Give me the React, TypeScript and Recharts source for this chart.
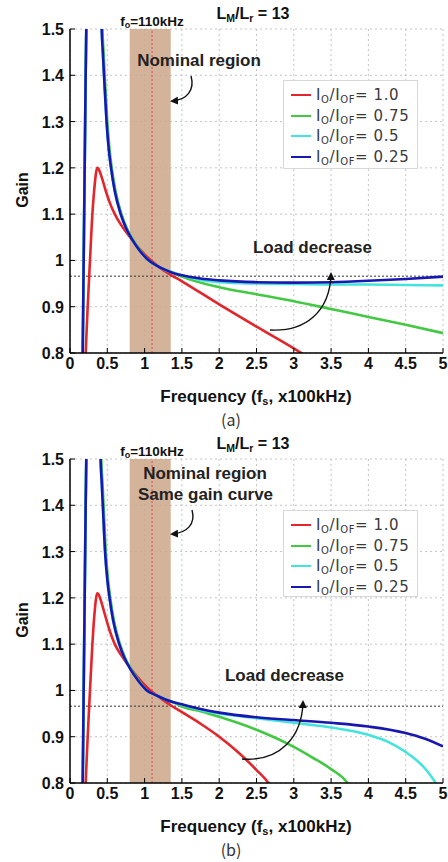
import React from 'react';
import { LineChart, Line, XAxis, YAxis, CartesianGrid, ReferenceArea, ReferenceLine } from 'recharts';

// ---------- axes / labels ----------
const xTicks = [0, 0.5, 1, 1.5, 2, 2.5, 3, 3.5, 4, 4.5, 5];
const yTicks = [0.8, 0.9, 1, 1.1, 1.2, 1.3, 1.4, 1.5];
const legendValues = ['1.0', '0.75', '0.5', '0.25'];
const nominalBand = [0.8, 1.35];
const resonantFreq = 1.1;
const refGain = 0.966;

// ---------- panel (a) ----------
const aRedF = [0.205, 0.21, 0.237, 0.268, 0.3, 0.318, 0.335, 0.35, 0.366, 0.385, 0.41, 0.44, 0.48, 0.53, 0.6, 0.7, 0.8, 0.9, 1.0, 1.1, 1.2, 1.35, 1.5, 2, 2.5, 3, 3.15];
const aRedG = [0.78, 0.8, 0.9, 1.0, 1.1, 1.14, 1.17, 1.19, 1.2, 1.197, 1.187, 1.172, 1.15, 1.126, 1.1, 1.073, 1.051, 1.031, 1.013, 0.998, 0.985, 0.969, 0.955, 0.905, 0.857, 0.81, 0.795];

const aGreenF = [0.165, 0.17, 0.18, 0.19, 0.2, 0.21, 0.22, 0.225, 0.3, 0.42, 0.435, 0.45, 0.465, 0.5, 0.53, 0.56, 0.61, 0.69, 0.76, 0.84, 0.94, 1.05, 1.15, 1.27, 1.4, 1.5, 2, 2.5, 3, 3.5, 4, 4.5, 5];
const aGreenG = [0.78, 0.8, 0.95, 1.1, 1.25, 1.4, 1.52, 1.6, null, 1.62, 1.5, 1.45, 1.4, 1.3, 1.24, 1.2, 1.15, 1.1, 1.07, 1.046, 1.022, 1.001, 0.99, 0.98, 0.972, 0.965, 0.942, 0.927, 0.912, 0.895, 0.878, 0.861, 0.843];

const aCyanF = [0.165, 0.17, 0.18, 0.19, 0.2, 0.21, 0.22, 0.225, 0.3, 0.41, 0.425, 0.44, 0.456, 0.49, 0.52, 0.55, 0.6, 0.68, 0.75, 0.83, 0.93, 1.05, 1.15, 1.27, 1.4, 1.5, 1.75, 2, 2.5, 3, 3.5, 4, 4.5, 5];
const aCyanG = [0.78, 0.8, 0.95, 1.1, 1.25, 1.4, 1.52, 1.6, null, 1.62, 1.5, 1.45, 1.4, 1.3, 1.24, 1.2, 1.15, 1.1, 1.07, 1.046, 1.022, 1.001, 0.99, 0.98, 0.973, 0.968, 0.958, 0.953, 0.95, 0.949, 0.948, 0.948, 0.947, 0.946];

const aBlueF = [0.165, 0.17, 0.18, 0.19, 0.2, 0.21, 0.22, 0.225, 0.3, 0.41, 0.425, 0.44, 0.456, 0.49, 0.52, 0.55, 0.6, 0.68, 0.75, 0.83, 0.93, 1.05, 1.15, 1.27, 1.4, 1.5, 1.75, 2, 2.5, 3, 3.5, 4, 4.5, 5];
const aBlueG = [0.78, 0.8, 0.95, 1.1, 1.25, 1.4, 1.52, 1.6, null, 1.62, 1.5, 1.45, 1.4, 1.3, 1.24, 1.2, 1.15, 1.1, 1.07, 1.046, 1.022, 1.001, 0.99, 0.98, 0.972, 0.968, 0.961, 0.957, 0.953, 0.952, 0.953, 0.956, 0.96, 0.965];

// ---------- panel (b) ----------
const bRedF = [0.205, 0.21, 0.237, 0.268, 0.3, 0.318, 0.335, 0.35, 0.366, 0.385, 0.41, 0.44, 0.48, 0.53, 0.6, 0.7, 0.8, 0.9, 1.0, 1.1, 1.2, 1.35, 1.5, 1.75, 2, 2.25, 2.5, 2.66, 2.7];
const bRedG = [0.78, 0.8, 0.9, 1.0, 1.1, 1.145, 1.178, 1.2, 1.21, 1.207, 1.196, 1.18, 1.157, 1.13, 1.1, 1.073, 1.05, 1.03, 1.012, 0.997, 0.985, 0.968, 0.953, 0.928, 0.9, 0.867, 0.828, 0.8, 0.79];

const bGreenF = [0.165, 0.17, 0.18, 0.19, 0.2, 0.21, 0.22, 0.225, 0.3, 0.405, 0.42, 0.435, 0.45, 0.48, 0.51, 0.54, 0.59, 0.67, 0.74, 0.82, 0.92, 1.03, 1.15, 1.27, 1.4, 1.5, 1.75, 2, 2.5, 3, 3.25, 3.5, 3.72, 3.76];
const bGreenG = [0.78, 0.8, 0.95, 1.1, 1.25, 1.4, 1.52, 1.6, null, 1.62, 1.5, 1.45, 1.4, 1.3, 1.24, 1.2, 1.15, 1.1, 1.07, 1.046, 1.022, 1.0, 0.99, 0.981, 0.973, 0.965, 0.955, 0.943, 0.915, 0.878, 0.855, 0.83, 0.8, 0.79];

const bCyanF = [0.165, 0.17, 0.18, 0.19, 0.2, 0.21, 0.22, 0.225, 0.3, 0.395, 0.41, 0.425, 0.44, 0.47, 0.5, 0.53, 0.58, 0.66, 0.73, 0.81, 0.91, 1.03, 1.15, 1.27, 1.4, 1.5, 1.75, 2, 2.5, 3, 3.5, 4, 4.25, 4.5, 4.75, 4.9, 4.95];
const bCyanG = [0.78, 0.8, 0.95, 1.1, 1.25, 1.4, 1.52, 1.6, null, 1.62, 1.5, 1.45, 1.4, 1.3, 1.24, 1.2, 1.15, 1.1, 1.07, 1.046, 1.022, 1.0, 0.99, 0.981, 0.974, 0.969, 0.958, 0.95, 0.94, 0.93, 0.92, 0.904, 0.89, 0.867, 0.833, 0.8, 0.785];

const bBlueF = [0.165, 0.17, 0.18, 0.19, 0.2, 0.21, 0.22, 0.225, 0.3, 0.395, 0.41, 0.425, 0.44, 0.47, 0.5, 0.53, 0.58, 0.66, 0.73, 0.81, 0.91, 1.03, 1.15, 1.27, 1.4, 1.5, 1.75, 2, 2.5, 3, 3.5, 4, 4.5, 4.75, 5];
const bBlueG = [0.78, 0.8, 0.95, 1.1, 1.25, 1.4, 1.52, 1.6, null, 1.62, 1.5, 1.45, 1.4, 1.3, 1.24, 1.2, 1.15, 1.1, 1.07, 1.046, 1.022, 1.0, 0.99, 0.981, 0.974, 0.97, 0.96, 0.952, 0.942, 0.936, 0.93, 0.922, 0.908, 0.896, 0.879];

// ---------- styles ----------
const COLORS = ['#e2262c', '#42c842', '#44e4dc', '#1818b0'];
const BOLD = "'Liberation Sans', Arial, sans-serif";
const KR = "'Noto Sans CJK KR', 'Noto Sans', sans-serif";
const LEG = "'DejaVu Sans', sans-serif";

const toPoints = (f: number[], g: (number | null)[]) => f.map((v, i) => ({ f: v, g: g[i] }));

const BottomTick = (props: any) => {
  const { x, y, payload } = props;
  return (
    <g>
      <line x1={x} x2={x} y1={y} y2={y - 5} stroke="#000" strokeWidth={1} />
      <text x={x} y={y + 16} textAnchor="middle" fontSize={16} fontWeight="bold" fontFamily={BOLD} fill="#111">
        {String(payload.value)}
      </text>
    </g>
  );
};
const TopTick = (props: any) => {
  const { x, y } = props;
  return <line x1={x} x2={x} y1={y} y2={y + 5} stroke="#000" strokeWidth={1} />;
};
const LeftTick = (props: any) => {
  const { x, y, payload } = props;
  return (
    <g>
      <line x1={x} x2={x + 5} y1={y} y2={y} stroke="#000" strokeWidth={1} />
      <text x={x - 6} y={y + 6} textAnchor="end" fontSize={16} fontWeight="bold" fontFamily={BOLD} fill="#111">
        {String(payload.value)}
      </text>
    </g>
  );
};
const RightTick = (props: any) => {
  const { x, y } = props;
  return <line x1={x} x2={x - 5} y1={y} y2={y} stroke="#000" strokeWidth={1} />;
};

type PanelProps = { top: number; series: { f: number[]; g: (number | null)[] }[] };

const Panel = ({ top, series }: PanelProps) => (
  <div style={{ position: 'absolute', left: 0, top, width: 448, height: 430 }}>
    <LineChart width={448} height={430} margin={{ top: 29, right: 5, bottom: 47, left: 0 }}>
      <CartesianGrid stroke="#c4c4c4" strokeDasharray="2 3" />
      <XAxis dataKey="f" type="number" domain={[0, 5]} ticks={xTicks} allowDataOverflow height={30}
        tickSize={0} tickMargin={0} tick={<BottomTick />} axisLine={{ stroke: '#000', strokeWidth: 1.5 }} />
      <XAxis xAxisId="top" orientation="top" dataKey="f" type="number" domain={[0, 5]} ticks={xTicks} allowDataOverflow height={0}
        tickSize={0} tickMargin={0} tick={<TopTick />} axisLine={{ stroke: '#000', strokeWidth: 1.5 }} />
      <YAxis type="number" domain={[0.8, 1.5]} ticks={yTicks} allowDataOverflow width={70}
        tickSize={0} tickMargin={0} tick={<LeftTick />} axisLine={{ stroke: '#000', strokeWidth: 1.5 }} />
      <YAxis yAxisId="right" orientation="right" type="number" domain={[0.8, 1.5]} ticks={yTicks} allowDataOverflow width={0}
        tickSize={0} tickMargin={0} tick={<RightTick />} axisLine={{ stroke: '#000', strokeWidth: 1.5 }} />
      <ReferenceArea x1={nominalBand[0]} x2={nominalBand[1]} y1={0.8} y2={1.5} fill="#cca68a" fillOpacity={0.85} stroke="none" ifOverflow="hidden" />
      <ReferenceLine x={resonantFreq} stroke="#e05a5a" strokeDasharray="2 2" strokeWidth={1.2} />
      <ReferenceLine y={refGain} stroke="#333" strokeDasharray="2 2" strokeWidth={1} />
      {series.map((s, i) => (
        <Line key={i} data={toPoints(s.f, s.g)} dataKey="g" type="monotone" stroke={COLORS[i]} strokeWidth={2.6}
          dot={false} activeDot={false} isAnimationActive={false} connectNulls={false} />
      ))}
    </LineChart>
  </div>
);

const subStyle: React.CSSProperties = { fontSize: 10, position: 'relative', top: 3 };

const LegendBox = ({ x, y, h }: { x: number; y: number; h: number }) => (
  <div style={{ position: 'absolute', left: x, top: y, width: 135, height: h, background: '#fff', border: '1px solid #d8d8d8', boxSizing: 'border-box' }}>
    {legendValues.map((v, i) => (
      <div key={i} style={{ position: 'absolute', left: 0, top: 4 + i * 20.5, height: 20, width: 135 }}>
        <div style={{ position: 'absolute', left: 7, top: 9, width: 20, height: 2, background: COLORS[i] }} />
        <div style={{ position: 'absolute', left: 32, top: 0, lineHeight: '20px', fontFamily: LEG, fontSize: 15, letterSpacing: 0.6, color: '#3a3a3a', whiteSpace: 'nowrap' }}>
          I<span style={subStyle}>O</span>/I<span style={subStyle}>OF</span>= {v}
        </div>
      </div>
    ))}
  </div>
);

const Arrow = ({ d }: { d: string }) => (
  <path d={d} fill="none" stroke="#111" strokeWidth={1.4} markerEnd="url(#ah)" />
);

const Common = ({ off, cap }: { off: number; cap: string }) => (
  <g>
    <text x={253} y={18.5 + off} textAnchor="middle" fontFamily={BOLD} fontWeight="bold" fontSize={16} fill="#111">
      L<tspan fontSize={10.5} dy={3}>M</tspan><tspan dy={-3}>/L</tspan><tspan fontSize={10.5} dy={3}>r</tspan><tspan dy={-3}> = 13</tspan>
    </text>
    <text x={152} y={25.5 + off} textAnchor="middle" fontFamily={BOLD} fontWeight="bold" fontSize={13.5} fill="#111">
      f<tspan fontSize={9} dy={2}>o</tspan><tspan dy={-2}>=110kHz</tspan>
    </text>
    <text x={256} y={401.5 + off} textAnchor="middle" fontFamily={BOLD} fontWeight="bold" fontSize={17} fill="#111">
      Frequency (f<tspan fontSize={11} dy={3}>s</tspan><tspan dy={-3}>, x100kHz)</tspan>
    </text>
    <text transform={`translate(28, ${190 + off}) rotate(-90)`} textAnchor="middle" fontFamily={BOLD} fontWeight="bold" fontSize={16} fill="#111">
      Gain
    </text>
    <text x={231} y={426 + off} textAnchor="middle" fontFamily={KR} fontSize={16} fill="#333">
      {cap}
    </text>
  </g>
);

export default function App() {
  const aSeries = [
    { f: aRedF, g: aRedG },
    { f: aGreenF, g: aGreenG },
    { f: aCyanF, g: aCyanG },
    { f: aBlueF, g: aBlueG },
  ];
  const bSeries = [
    { f: bRedF, g: bRedG },
    { f: bGreenF, g: bGreenG },
    { f: bCyanF, g: bCyanG },
    { f: bBlueF, g: bBlueG },
  ];
  return (
    <div style={{ position: 'absolute', left: 0, top: 0, width: 448, height: 862, background: '#fff', overflow: 'hidden' }}>
      <Panel top={0} series={aSeries} />
      <Panel top={430} series={bSeries} />
      <svg width={448} height={862} style={{ position: 'absolute', left: 0, top: 0, pointerEvents: 'none' }}>
        <defs>
          <marker id="ah" markerWidth="8" markerHeight="8" refX="6" refY="4" orient="auto" markerUnits="userSpaceOnUse">
            <path d="M0,0 L8,4 L0,8 Z" fill="#111" />
          </marker>
        </defs>
        <Common off={0} cap="(a)" />
        <Common off={430} cap="(b)" />
        <text x={199} y={66} textAnchor="middle" fontFamily={BOLD} fontWeight="bold" fontSize={17} fill="#222">Nominal region</text>
        <text x={312.5} y={252.5} textAnchor="middle" fontFamily={BOLD} fontWeight="bold" fontSize={17} fill="#222">Load decrease</text>
        <text x={205} y={479} textAnchor="middle" fontFamily={BOLD} fontWeight="bold" fontSize={17} fill="#222">Nominal region</text>
        <text x={205.5} y={500} textAnchor="middle" fontFamily={BOLD} fontWeight="bold" fontSize={17} fill="#222">Same gain curve</text>
        <text x={284.5} y={681} textAnchor="middle" fontFamily={BOLD} fontWeight="bold" fontSize={17} fill="#222">Load decrease</text>
        <Arrow d="M191,76 C195,90 187,100 172,101" />
        <Arrow d="M270,330 C305,332 330,312 331,274" />
        <Arrow d="M192,510 C196,524 187,533 172,534" />
        <Arrow d="M242,759 C280,762 302,737 303,702" />
      </svg>
      <LegendBox x={283} y={80} h={89} />
      <LegendBox x={283} y={510} h={87} />
    </div>
  );
}
